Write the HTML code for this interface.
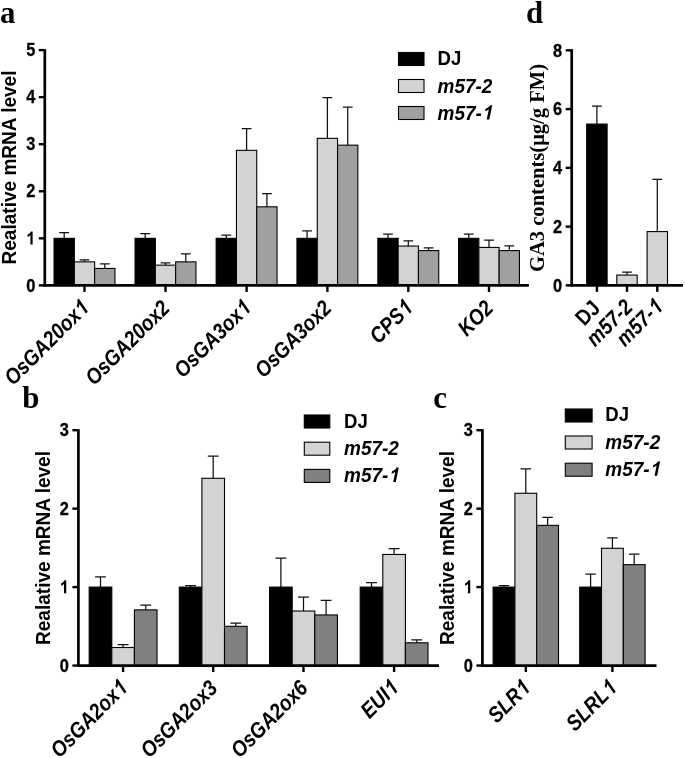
<!DOCTYPE html>
<html><head><meta charset="utf-8"><title>Figure</title>
<style>
html,body{margin:0;padding:0;background:#fff;}
svg{display:block;filter:grayscale(1);}
text{font-family:"Liberation Sans",sans-serif;fill:#000;}
.tk{font-size:18.2px;font-weight:bold;stroke:#000;stroke-width:0.3px;}
.xl{font-size:22px;font-weight:bold;font-style:italic;}
.xln{font-size:22px;font-weight:bold;}
.lg{font-size:20px;font-weight:bold;}
.lgi{font-size:20px;font-weight:bold;font-style:italic;}
.yl{font-size:20.5px;font-weight:bold;}
.yls{font-family:"Liberation Serif",serif;font-size:20px;font-weight:bold;}
.pl{font-family:"Liberation Serif",serif;font-size:32.5px;font-weight:bold;}
</style></head><body>
<svg width="685" height="758" viewBox="0 0 685 758">
<rect width="685" height="758" fill="#fff"/>
<path d="M64.20 238.34V232.69M59.33 232.69H69.07" stroke="#111" stroke-width="1.25" fill="none"/>
<rect x="54.05" y="238.34" width="20.30" height="47.06" fill="#000" stroke="#000" stroke-width="1.1"/>
<path d="M84.50 261.87V259.75M79.63 259.75H89.37" stroke="#111" stroke-width="1.25" fill="none"/>
<rect x="74.35" y="261.87" width="20.30" height="23.53" fill="#d3d3d3" stroke="#000" stroke-width="1.1"/>
<path d="M104.80 268.46V263.75M99.93 263.75H109.67" stroke="#111" stroke-width="1.25" fill="none"/>
<rect x="94.65" y="268.46" width="20.30" height="16.94" fill="#a0a0a0" stroke="#000" stroke-width="1.1"/>
<path d="M145.20 238.34V233.63M140.33 233.63H150.07" stroke="#111" stroke-width="1.25" fill="none"/>
<rect x="135.05" y="238.34" width="20.30" height="47.06" fill="#000" stroke="#000" stroke-width="1.1"/>
<path d="M165.50 265.16V262.91M160.63 262.91H170.37" stroke="#111" stroke-width="1.25" fill="none"/>
<rect x="155.35" y="265.16" width="20.30" height="20.24" fill="#d3d3d3" stroke="#000" stroke-width="1.1"/>
<path d="M185.80 261.87V253.87M180.93 253.87H190.67" stroke="#111" stroke-width="1.25" fill="none"/>
<rect x="175.65" y="261.87" width="20.30" height="23.53" fill="#a0a0a0" stroke="#000" stroke-width="1.1"/>
<path d="M226.30 238.34V235.05M221.43 235.05H231.17" stroke="#111" stroke-width="1.25" fill="none"/>
<rect x="216.15" y="238.34" width="20.30" height="47.06" fill="#000" stroke="#000" stroke-width="1.1"/>
<path d="M246.60 150.34V128.69M241.73 128.69H251.47" stroke="#111" stroke-width="1.25" fill="none"/>
<rect x="236.45" y="150.34" width="20.30" height="135.06" fill="#d3d3d3" stroke="#000" stroke-width="1.1"/>
<path d="M266.90 206.81V193.63M262.03 193.63H271.77" stroke="#111" stroke-width="1.25" fill="none"/>
<rect x="256.75" y="206.81" width="20.30" height="78.59" fill="#a0a0a0" stroke="#000" stroke-width="1.1"/>
<path d="M307.10 238.34V230.81M302.23 230.81H311.97" stroke="#111" stroke-width="1.25" fill="none"/>
<rect x="296.95" y="238.34" width="20.30" height="47.06" fill="#000" stroke="#000" stroke-width="1.1"/>
<path d="M327.40 138.34V97.63M322.53 97.63H332.27" stroke="#111" stroke-width="1.25" fill="none"/>
<rect x="317.25" y="138.34" width="20.30" height="147.06" fill="#d3d3d3" stroke="#000" stroke-width="1.1"/>
<path d="M347.70 145.16V107.04M342.83 107.04H352.57" stroke="#111" stroke-width="1.25" fill="none"/>
<rect x="337.55" y="145.16" width="20.30" height="140.24" fill="#a0a0a0" stroke="#000" stroke-width="1.1"/>
<path d="M388.00 238.34V234.10M383.13 234.10H392.87" stroke="#111" stroke-width="1.25" fill="none"/>
<rect x="377.85" y="238.34" width="20.30" height="47.06" fill="#000" stroke="#000" stroke-width="1.1"/>
<path d="M408.30 246.06V240.83M403.43 240.83H413.17" stroke="#111" stroke-width="1.25" fill="none"/>
<rect x="398.15" y="246.06" width="20.30" height="39.34" fill="#d3d3d3" stroke="#000" stroke-width="1.1"/>
<path d="M428.60 250.58V247.94M423.73 247.94H433.47" stroke="#111" stroke-width="1.25" fill="none"/>
<rect x="418.45" y="250.58" width="20.30" height="34.82" fill="#a0a0a0" stroke="#000" stroke-width="1.1"/>
<path d="M468.70 238.34V234.10M463.83 234.10H473.57" stroke="#111" stroke-width="1.25" fill="none"/>
<rect x="458.55" y="238.34" width="20.30" height="47.06" fill="#000" stroke="#000" stroke-width="1.1"/>
<path d="M489.00 247.42V240.03M484.13 240.03H493.87" stroke="#111" stroke-width="1.25" fill="none"/>
<rect x="478.85" y="247.42" width="20.30" height="37.98" fill="#d3d3d3" stroke="#000" stroke-width="1.1"/>
<path d="M509.30 250.58V245.87M504.43 245.87H514.17" stroke="#111" stroke-width="1.25" fill="none"/>
<rect x="499.15" y="250.58" width="20.30" height="34.82" fill="#a0a0a0" stroke="#000" stroke-width="1.1"/>
<path d="M44.8 49.1V286.4" stroke="#000" stroke-width="2.7" fill="none"/>
<path d="M43.8 285.4H529" stroke="#000" stroke-width="2.7" fill="none"/>
<path d="M38.8 285.40H44.8" stroke="#000" stroke-width="2.4"/>
<text transform="translate(35.30,291.60) scale(0.9,1)" text-anchor="end" class="tk">0</text>
<path d="M38.8 238.34H44.8" stroke="#000" stroke-width="2.4"/>
<g transform="translate(35.30,244.54) scale(0.9,1)"><path transform="translate(-10.119,0) scale(0.00889,-0.00889)" d="M806 0H525V1059Q371 915 162 846V1101Q272 1137 401 1237.5Q530 1338 578 1472H806Z" fill="#000"/></g>
<path d="M38.8 191.28H44.8" stroke="#000" stroke-width="2.4"/>
<text transform="translate(35.30,197.48) scale(0.9,1)" text-anchor="end" class="tk">2</text>
<path d="M38.8 144.22H44.8" stroke="#000" stroke-width="2.4"/>
<text transform="translate(35.30,150.42) scale(0.9,1)" text-anchor="end" class="tk">3</text>
<path d="M38.8 97.16H44.8" stroke="#000" stroke-width="2.4"/>
<text transform="translate(35.30,103.36) scale(0.9,1)" text-anchor="end" class="tk">4</text>
<path d="M38.8 50.10H44.8" stroke="#000" stroke-width="2.4"/>
<text transform="translate(35.30,56.30) scale(0.9,1)" text-anchor="end" class="tk">5</text>
<path d="M84.50 285.4V291.9" stroke="#000" stroke-width="2.4"/>
<path d="M165.50 285.4V291.9" stroke="#000" stroke-width="2.4"/>
<path d="M246.60 285.4V291.9" stroke="#000" stroke-width="2.4"/>
<path d="M327.40 285.4V291.9" stroke="#000" stroke-width="2.4"/>
<path d="M408.30 285.4V291.9" stroke="#000" stroke-width="2.4"/>
<path d="M489.00 285.4V291.9" stroke="#000" stroke-width="2.4"/>
<g transform="translate(90.00,309.50) rotate(-45) scale(0.87,1)"><text x="-12.232" y="0" text-anchor="end" class="xl">OsGA20ox</text><path transform="translate(-12.232,0) skewX(-12) scale(0.01074,-0.01074)" d="M806 0H525V1059Q371 915 162 846V1101Q272 1137 401 1237.5Q530 1338 578 1472H806Z" fill="#000"/></g>
<text transform="translate(171.00,309.50) rotate(-45) scale(0.87,1)" text-anchor="end" class="xl">OsGA20ox2</text>
<g transform="translate(252.10,309.50) rotate(-45) scale(0.87,1)"><text x="-12.232" y="0" text-anchor="end" class="xl">OsGA3ox</text><path transform="translate(-12.232,0) skewX(-12) scale(0.01074,-0.01074)" d="M806 0H525V1059Q371 915 162 846V1101Q272 1137 401 1237.5Q530 1338 578 1472H806Z" fill="#000"/></g>
<text transform="translate(332.90,309.50) rotate(-45) scale(0.87,1)" text-anchor="end" class="xl">OsGA3ox2</text>
<g transform="translate(413.80,309.50) rotate(-45) scale(0.87,1)"><text x="-12.232" y="0" text-anchor="end" class="xl">CPS</text><path transform="translate(-12.232,0) skewX(-12) scale(0.01074,-0.01074)" d="M806 0H525V1059Q371 915 162 846V1101Q272 1137 401 1237.5Q530 1338 578 1472H806Z" fill="#000"/></g>
<text transform="translate(494.50,309.50) rotate(-45) scale(0.87,1)" text-anchor="end" class="xl">KO2</text>
<rect x="398.5" y="52.5" width="25.5" height="13" fill="#000" stroke="#000" stroke-width="1.1"/>
<text transform="translate(437.5,65.4) scale(0.93,1)" class="lg">DJ</text>
<rect x="398.5" y="79.5" width="25.5" height="13" fill="#d3d3d3" stroke="#000" stroke-width="1.1"/>
<text transform="translate(437.5,92.60000000000001) scale(0.95,1)" class="lgi">m57-2</text>
<rect x="398.5" y="106.5" width="25.5" height="13" fill="#a0a0a0" stroke="#000" stroke-width="1.1"/>
<g transform="translate(437.5,119.60000000000001) scale(0.95,1)"><text class="lgi">m57-</text><path transform="translate(46.680,0) skewX(-12) scale(0.00977,-0.00977)" d="M806 0H525V1059Q371 915 162 846V1101Q272 1137 401 1237.5Q530 1338 578 1472H806Z" fill="#000"/></g>
<text transform="translate(16.2,167.5) rotate(-90)" text-anchor="middle" class="yl" textLength="194" lengthAdjust="spacingAndGlyphs">Realative mRNA level</text>
<text transform="translate(0.1,22.8) scale(0.95,1)" class="pl">a</text>
<path d="M596.90 124.08V106.16M592.00 106.16H601.80" stroke="#111" stroke-width="1.25" fill="none"/>
<rect x="586.70" y="124.08" width="20.40" height="161.27" fill="#000" stroke="#000" stroke-width="1.1"/>
<path d="M627.00 275.07V272.13M622.10 272.13H631.90" stroke="#111" stroke-width="1.25" fill="none"/>
<rect x="616.80" y="275.07" width="20.40" height="10.28" fill="#d3d3d3" stroke="#000" stroke-width="1.1"/>
<path d="M657.30 231.59V179.31M652.40 179.31H662.20" stroke="#111" stroke-width="1.25" fill="none"/>
<rect x="647.10" y="231.59" width="20.40" height="53.76" fill="#d3d3d3" stroke="#000" stroke-width="1.1"/>
<path d="M571.7 49.15V286.35" stroke="#000" stroke-width="2.7" fill="none"/>
<path d="M570.7 285.35H683" stroke="#000" stroke-width="2.7" fill="none"/>
<path d="M565.7 285.35H571.7" stroke="#000" stroke-width="2.4"/>
<text transform="translate(562.20,291.55) scale(0.9,1)" text-anchor="end" class="tk">0</text>
<path d="M565.7 226.60H571.7" stroke="#000" stroke-width="2.4"/>
<text transform="translate(562.20,232.80) scale(0.9,1)" text-anchor="end" class="tk">2</text>
<path d="M565.7 167.85H571.7" stroke="#000" stroke-width="2.4"/>
<text transform="translate(562.20,174.05) scale(0.9,1)" text-anchor="end" class="tk">4</text>
<path d="M565.7 109.10H571.7" stroke="#000" stroke-width="2.4"/>
<text transform="translate(562.20,115.30) scale(0.9,1)" text-anchor="end" class="tk">6</text>
<path d="M565.7 50.35H571.7" stroke="#000" stroke-width="2.4"/>
<text transform="translate(562.20,56.55) scale(0.9,1)" text-anchor="end" class="tk">8</text>
<path d="M596.90 285.35V291.85" stroke="#000" stroke-width="2.4"/>
<path d="M627.00 285.35V291.85" stroke="#000" stroke-width="2.4"/>
<path d="M657.30 285.35V291.85" stroke="#000" stroke-width="2.4"/>
<text transform="translate(601.50,309.50) rotate(-45) scale(0.87,1)" text-anchor="end" class="xln">DJ</text>
<text transform="translate(634.00,308.50) rotate(-45) scale(0.87,1)" text-anchor="end" class="xl">m57-2</text>
<g transform="translate(664.00,308.50) rotate(-45) scale(0.87,1)"><text x="-12.232" y="0" text-anchor="end" class="xl">m57-</text><path transform="translate(-12.232,0) skewX(-12) scale(0.01074,-0.01074)" d="M806 0H525V1059Q371 915 162 846V1101Q272 1137 401 1237.5Q530 1338 578 1472H806Z" fill="#000"/></g>
<text transform="translate(544,168) rotate(-90)" text-anchor="middle" class="yls" textLength="208" lengthAdjust="spacingAndGlyphs">GA3 contents(μg/g FM)</text>
<text transform="translate(526,22.8) scale(0.95,1)" class="pl">d</text>
<path d="M100.50 587.10V576.90M95.08 576.90H105.92" stroke="#111" stroke-width="1.25" fill="none"/>
<rect x="89.20" y="587.10" width="22.60" height="78.45" fill="#000" stroke="#000" stroke-width="1.1"/>
<path d="M123.10 647.51V644.68M117.68 644.68H128.52" stroke="#111" stroke-width="1.25" fill="none"/>
<rect x="111.80" y="647.51" width="22.60" height="18.04" fill="#d3d3d3" stroke="#000" stroke-width="1.1"/>
<path d="M145.70 609.85V605.14M140.28 605.14H151.12" stroke="#111" stroke-width="1.25" fill="none"/>
<rect x="134.40" y="609.85" width="22.60" height="55.70" fill="#808080" stroke="#000" stroke-width="1.1"/>
<path d="M190.60 587.10V585.53M185.18 585.53H196.02" stroke="#111" stroke-width="1.25" fill="none"/>
<rect x="179.30" y="587.10" width="22.60" height="78.45" fill="#000" stroke="#000" stroke-width="1.1"/>
<path d="M213.20 478.29V456.09M207.78 456.09H218.62" stroke="#111" stroke-width="1.25" fill="none"/>
<rect x="201.90" y="478.29" width="22.60" height="187.26" fill="#d3d3d3" stroke="#000" stroke-width="1.1"/>
<path d="M235.80 626.32V623.19M230.38 623.19H241.22" stroke="#111" stroke-width="1.25" fill="none"/>
<rect x="224.50" y="626.32" width="22.60" height="39.23" fill="#808080" stroke="#000" stroke-width="1.1"/>
<path d="M280.90 587.10V558.07M275.48 558.07H286.32" stroke="#111" stroke-width="1.25" fill="none"/>
<rect x="269.60" y="587.10" width="22.60" height="78.45" fill="#000" stroke="#000" stroke-width="1.1"/>
<path d="M303.50 611.03V597.06M298.08 597.06H308.92" stroke="#111" stroke-width="1.25" fill="none"/>
<rect x="292.20" y="611.03" width="22.60" height="54.52" fill="#d3d3d3" stroke="#000" stroke-width="1.1"/>
<path d="M326.10 614.95V600.44M320.68 600.44H331.52" stroke="#111" stroke-width="1.25" fill="none"/>
<rect x="314.80" y="614.95" width="22.60" height="50.60" fill="#808080" stroke="#000" stroke-width="1.1"/>
<path d="M371.50 587.10V582.63M366.08 582.63H376.92" stroke="#111" stroke-width="1.25" fill="none"/>
<rect x="360.20" y="587.10" width="22.60" height="78.45" fill="#000" stroke="#000" stroke-width="1.1"/>
<path d="M394.10 554.46V548.66M388.68 548.66H399.52" stroke="#111" stroke-width="1.25" fill="none"/>
<rect x="382.80" y="554.46" width="22.60" height="111.09" fill="#d3d3d3" stroke="#000" stroke-width="1.1"/>
<path d="M416.70 642.80V639.98M411.28 639.98H422.12" stroke="#111" stroke-width="1.25" fill="none"/>
<rect x="405.40" y="642.80" width="22.60" height="22.75" fill="#808080" stroke="#000" stroke-width="1.1"/>
<path d="M78.4 429.2V666.55" stroke="#000" stroke-width="2.7" fill="none"/>
<path d="M77.4 665.55H439" stroke="#000" stroke-width="2.7" fill="none"/>
<path d="M72.4 665.55H78.4" stroke="#000" stroke-width="2.4"/>
<text transform="translate(68.90,671.75) scale(0.9,1)" text-anchor="end" class="tk">0</text>
<path d="M72.4 587.10H78.4" stroke="#000" stroke-width="2.4"/>
<g transform="translate(68.90,593.30) scale(0.9,1)"><path transform="translate(-10.119,0) scale(0.00889,-0.00889)" d="M806 0H525V1059Q371 915 162 846V1101Q272 1137 401 1237.5Q530 1338 578 1472H806Z" fill="#000"/></g>
<path d="M72.4 508.65H78.4" stroke="#000" stroke-width="2.4"/>
<text transform="translate(68.90,514.85) scale(0.9,1)" text-anchor="end" class="tk">2</text>
<path d="M72.4 430.20H78.4" stroke="#000" stroke-width="2.4"/>
<text transform="translate(68.90,436.40) scale(0.9,1)" text-anchor="end" class="tk">3</text>
<path d="M123.10 665.55V672.05" stroke="#000" stroke-width="2.4"/>
<path d="M213.20 665.55V672.05" stroke="#000" stroke-width="2.4"/>
<path d="M303.50 665.55V672.05" stroke="#000" stroke-width="2.4"/>
<path d="M394.10 665.55V672.05" stroke="#000" stroke-width="2.4"/>
<g transform="translate(128.60,689.50) rotate(-45) scale(0.87,1)"><text x="-12.232" y="0" text-anchor="end" class="xl">OsGA2ox</text><path transform="translate(-12.232,0) skewX(-12) scale(0.01074,-0.01074)" d="M806 0H525V1059Q371 915 162 846V1101Q272 1137 401 1237.5Q530 1338 578 1472H806Z" fill="#000"/></g>
<text transform="translate(218.70,689.50) rotate(-45) scale(0.87,1)" text-anchor="end" class="xl">OsGA2ox3</text>
<text transform="translate(309.00,689.50) rotate(-45) scale(0.87,1)" text-anchor="end" class="xl">OsGA2ox6</text>
<g transform="translate(399.60,689.50) rotate(-45) scale(0.87,1)"><text x="-12.232" y="0" text-anchor="end" class="xl">EUI</text><path transform="translate(-12.232,0) skewX(-12) scale(0.01074,-0.01074)" d="M806 0H525V1059Q371 915 162 846V1101Q272 1137 401 1237.5Q530 1338 578 1472H806Z" fill="#000"/></g>
<rect x="304.3" y="415" width="25.5" height="13" fill="#000" stroke="#000" stroke-width="1.1"/>
<text transform="translate(344,428.2) scale(0.93,1)" class="lg">DJ</text>
<rect x="304.3" y="442.2" width="25.5" height="13" fill="#d3d3d3" stroke="#000" stroke-width="1.1"/>
<text transform="translate(344,455.0) scale(0.95,1)" class="lgi">m57-2</text>
<rect x="304.3" y="469.4" width="25.5" height="13" fill="#808080" stroke="#000" stroke-width="1.1"/>
<g transform="translate(344,482.0) scale(0.95,1)"><text class="lgi">m57-</text><path transform="translate(46.680,0) skewX(-12) scale(0.00977,-0.00977)" d="M806 0H525V1059Q371 915 162 846V1101Q272 1137 401 1237.5Q530 1338 578 1472H806Z" fill="#000"/></g>
<text transform="translate(49.5,548) rotate(-90)" text-anchor="middle" class="yl" textLength="194" lengthAdjust="spacingAndGlyphs">Realative mRNA level</text>
<text transform="translate(22.3,408.3) scale(0.95,1)" class="pl">b</text>
<path d="M504.00 587.10V585.53M498.77 585.53H509.23" stroke="#111" stroke-width="1.25" fill="none"/>
<rect x="493.10" y="587.10" width="21.80" height="78.45" fill="#000" stroke="#000" stroke-width="1.1"/>
<path d="M525.80 493.27V468.95M520.57 468.95H531.03" stroke="#111" stroke-width="1.25" fill="none"/>
<rect x="514.90" y="493.27" width="21.80" height="172.28" fill="#d3d3d3" stroke="#000" stroke-width="1.1"/>
<path d="M547.60 525.36V517.28M542.37 517.28H552.83" stroke="#111" stroke-width="1.25" fill="none"/>
<rect x="536.70" y="525.36" width="21.80" height="140.19" fill="#808080" stroke="#000" stroke-width="1.1"/>
<path d="M590.60 587.10V574.16M585.37 574.16H595.83" stroke="#111" stroke-width="1.25" fill="none"/>
<rect x="579.70" y="587.10" width="21.80" height="78.45" fill="#000" stroke="#000" stroke-width="1.1"/>
<path d="M612.40 548.27V537.83M607.17 537.83H617.63" stroke="#111" stroke-width="1.25" fill="none"/>
<rect x="601.50" y="548.27" width="21.80" height="117.28" fill="#d3d3d3" stroke="#000" stroke-width="1.1"/>
<path d="M634.20 564.66V554.15M628.97 554.15H639.43" stroke="#111" stroke-width="1.25" fill="none"/>
<rect x="623.30" y="564.66" width="21.80" height="100.89" fill="#808080" stroke="#000" stroke-width="1.1"/>
<path d="M482.4 429.2V666.55" stroke="#000" stroke-width="2.7" fill="none"/>
<path d="M481.4 665.55H656.5" stroke="#000" stroke-width="2.7" fill="none"/>
<path d="M476.4 665.55H482.4" stroke="#000" stroke-width="2.4"/>
<text transform="translate(472.90,671.75) scale(0.9,1)" text-anchor="end" class="tk">0</text>
<path d="M476.4 587.10H482.4" stroke="#000" stroke-width="2.4"/>
<g transform="translate(472.90,593.30) scale(0.9,1)"><path transform="translate(-10.119,0) scale(0.00889,-0.00889)" d="M806 0H525V1059Q371 915 162 846V1101Q272 1137 401 1237.5Q530 1338 578 1472H806Z" fill="#000"/></g>
<path d="M476.4 508.65H482.4" stroke="#000" stroke-width="2.4"/>
<text transform="translate(472.90,514.85) scale(0.9,1)" text-anchor="end" class="tk">2</text>
<path d="M476.4 430.20H482.4" stroke="#000" stroke-width="2.4"/>
<text transform="translate(472.90,436.40) scale(0.9,1)" text-anchor="end" class="tk">3</text>
<path d="M525.80 665.55V672.05" stroke="#000" stroke-width="2.4"/>
<path d="M612.40 665.55V672.05" stroke="#000" stroke-width="2.4"/>
<g transform="translate(531.30,689.50) rotate(-45) scale(0.87,1)"><text x="-12.232" y="0" text-anchor="end" class="xl">SLR</text><path transform="translate(-12.232,0) skewX(-12) scale(0.01074,-0.01074)" d="M806 0H525V1059Q371 915 162 846V1101Q272 1137 401 1237.5Q530 1338 578 1472H806Z" fill="#000"/></g>
<g transform="translate(617.90,689.50) rotate(-45) scale(0.87,1)"><text x="-12.232" y="0" text-anchor="end" class="xl">SLRL</text><path transform="translate(-12.232,0) skewX(-12) scale(0.01074,-0.01074)" d="M806 0H525V1059Q371 915 162 846V1101Q272 1137 401 1237.5Q530 1338 578 1472H806Z" fill="#000"/></g>
<rect x="565.3" y="409" width="26.8" height="13" fill="#000" stroke="#000" stroke-width="1.1"/>
<text transform="translate(605.3,421.4) scale(0.93,1)" class="lg">DJ</text>
<rect x="565.3" y="436" width="26.8" height="13" fill="#d3d3d3" stroke="#000" stroke-width="1.1"/>
<text transform="translate(605.3,448.59999999999997) scale(0.95,1)" class="lgi">m57-2</text>
<rect x="565.3" y="463.2" width="26.8" height="13" fill="#808080" stroke="#000" stroke-width="1.1"/>
<g transform="translate(605.3,475.8) scale(0.95,1)"><text class="lgi">m57-</text><path transform="translate(46.680,0) skewX(-12) scale(0.00977,-0.00977)" d="M806 0H525V1059Q371 915 162 846V1101Q272 1137 401 1237.5Q530 1338 578 1472H806Z" fill="#000"/></g>
<text transform="translate(454,548) rotate(-90)" text-anchor="middle" class="yl" textLength="194" lengthAdjust="spacingAndGlyphs">Realative mRNA level</text>
<text transform="translate(433.3,408.3) scale(0.95,1)" class="pl">c</text>
</svg>
</body></html>
